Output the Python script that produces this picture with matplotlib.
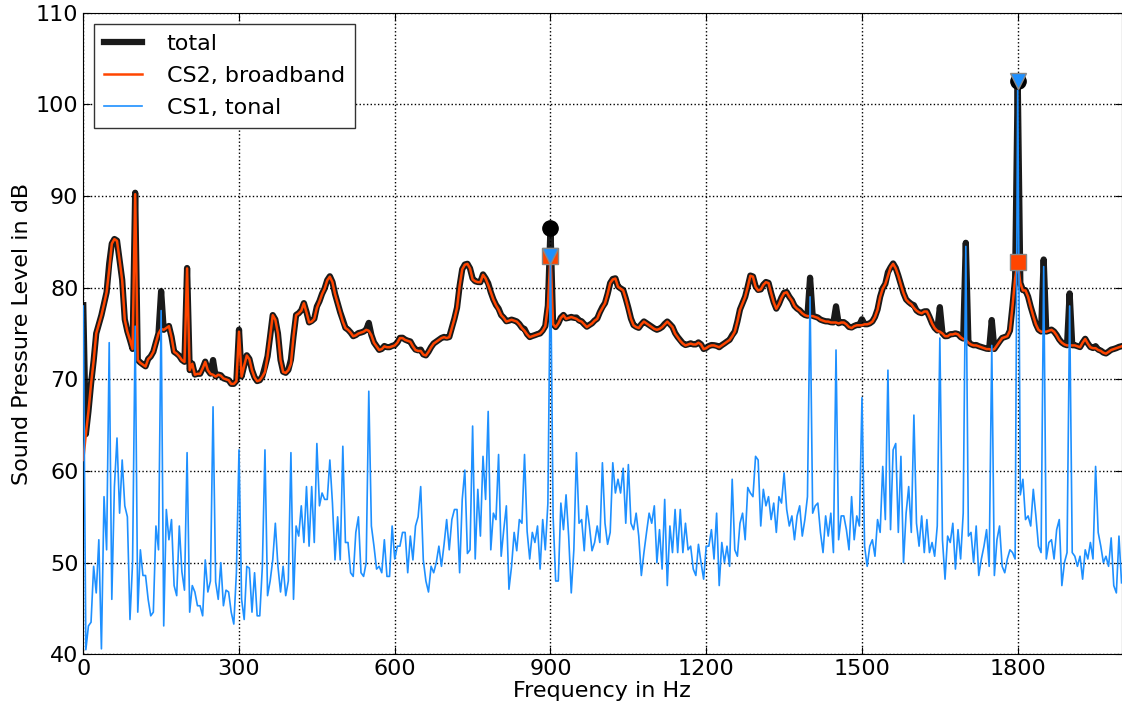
import numpy as np
import matplotlib
matplotlib.use("Agg")
import matplotlib.pyplot as plt

# frequency grid in Hz (5 Hz steps, 0 ... 2000)
freq = np.arange(0, 2001, 5)

# CS2, broadband level in dB, one row = 50 Hz
broadband = [
    61.2, 64.0, 66.5, 69.5, 72.0, 75.0, 76.0, 77.0, 78.2, 79.5,
    82.0, 84.8, 85.3, 85.1, 83.0, 80.8, 76.5, 75.2, 74.3, 73.3,
    90.2, 72.1, 71.8, 71.6, 71.4, 72.2, 72.5, 73.0, 74.0, 75.0,
    75.5, 75.4, 75.6, 75.8, 74.6, 73.0, 72.8, 72.5, 72.1, 71.9,
    82.1, 71.0, 71.7, 70.5, 70.6, 70.6, 71.2, 71.9, 71.0, 70.6,
    70.5, 70.3, 70.5, 70.4, 70.1, 70.0, 69.9, 69.5, 69.5, 69.8,
    75.2, 70.3, 71.5, 72.6, 72.2, 71.0, 70.2, 69.8, 69.9, 70.3,
    70.8, 72.5, 74.7, 77.0, 76.5, 75.0, 72.1, 70.8, 70.7, 71.0,
    71.7, 74.7, 77.0, 77.2, 77.5, 78.3, 77.3, 76.2, 76.3, 76.6,
    77.8, 78.5, 79.3, 79.9, 80.8, 81.2, 80.6, 79.3, 78.3, 77.3,
    76.3, 75.6, 75.4, 75.1, 74.7, 74.8, 75.0, 75.1, 75.2, 75.4,
    75.3, 74.8, 74.0, 73.6, 73.2, 73.3, 73.6, 73.5, 73.5, 73.6,
    73.7, 74.0, 74.5, 74.5, 74.3, 74.2, 74.1, 73.6, 73.2, 73.1,
    73.1, 72.7, 72.6, 73.0, 73.5, 73.9, 74.1, 74.3, 74.5, 74.6,
    74.5, 74.6, 75.6, 76.6, 77.8, 80.2, 82.0, 82.5, 82.6, 82.1,
    80.9, 80.7, 80.6, 80.6, 81.4, 81.0, 80.3, 79.5, 78.7, 78.1,
    77.6, 77.0, 76.7, 76.3, 76.4, 76.5, 76.4, 76.3, 76.0, 75.6,
    75.3, 74.9, 74.6, 74.7, 74.8, 74.9, 75.0, 75.3, 75.8, 78.0,
    83.5, 76.0, 75.7, 76.1, 76.7, 77.0, 76.6, 76.7, 76.8, 76.7,
    76.6, 76.4, 76.3, 76.0, 75.7, 75.9, 76.1, 76.4, 76.6, 77.3,
    77.8, 78.3, 79.3, 80.5, 80.9, 81.0, 80.1, 79.9, 79.7, 78.8,
    77.7, 76.6, 75.9, 75.7, 75.6, 76.0, 76.3, 76.1, 75.9, 75.7,
    75.5, 75.4, 75.5, 75.7, 76.0, 76.3, 76.0, 75.7, 75.0, 74.6,
    74.2, 73.9, 73.7, 73.8, 73.9, 73.8, 73.8, 74.0, 73.8, 73.3,
    73.4, 73.6, 73.7, 73.7, 73.6, 73.5, 73.7, 73.9, 74.1, 74.3,
    74.7, 75.2, 76.3, 77.6, 78.3, 79.0, 80.1, 81.3, 81.2, 80.1,
    79.7, 79.8, 80.3, 80.6, 80.5, 79.4, 78.4, 77.7, 78.2, 78.9,
    79.4, 79.5, 79.0, 78.6, 78.0, 77.7, 77.5, 77.2, 77.0, 76.9,
    76.9, 76.9, 76.8, 76.7, 76.5, 76.4, 76.3, 76.3, 76.2, 76.2,
    76.2, 76.1, 76.2, 76.2, 76.0, 75.7, 75.6, 75.8, 75.9, 75.9,
    75.9, 76.0, 76.0, 76.1, 76.3, 76.8, 77.6, 79.0, 79.9, 80.4,
    81.3, 82.2, 82.6, 82.1, 81.3, 80.3, 79.4, 78.7, 78.4, 78.2,
    77.8, 77.5, 77.3, 77.2, 77.4, 77.4, 76.8, 76.1, 75.6, 75.3,
    75.2, 75.0, 74.7, 74.7, 74.9, 74.9, 75.0, 74.9, 74.6, 74.4,
    74.3, 74.0, 73.8, 73.7, 73.7, 73.6, 73.5, 73.4, 73.3, 73.3,
    73.2, 73.3, 73.7, 74.1, 74.5, 74.6, 74.7, 75.3, 78.0, 81.0,
    82.8, 80.5, 79.7, 79.7, 79.0, 77.9, 76.9, 76.0, 75.4, 75.2,
    75.2, 75.2, 75.3, 75.4, 75.2, 74.8, 74.3, 74.0, 73.8, 73.7,
    73.7, 73.7, 73.7, 73.6, 73.5, 74.0, 74.4, 73.9, 73.5, 73.4,
    73.4, 73.2, 73.1, 72.9, 72.8, 73.0, 73.2, 73.3, 73.4, 73.5,
    73.6,
]

# CS1, tonal level in dB, one row = 50 Hz
tonal = [
    78.0, 40.5, 43.1, 43.5, 49.6, 46.7, 52.5, 40.6, 57.2, 51.4,
    74.0, 46.0, 58.3, 63.6, 55.4, 61.2, 56.2, 55.0, 43.8, 50.0,
    75.8, 44.6, 51.4, 48.6, 48.6, 46.0, 44.2, 44.6, 54.0, 51.4,
    77.5, 43.1, 55.8, 52.5, 54.7, 47.5, 46.4, 54.0, 49.0, 47.0,
    62.0, 44.6, 47.5, 46.8, 45.3, 45.3, 44.2, 50.3, 46.8, 48.0,
    67.0, 47.9, 46.0, 50.0, 45.3, 47.0, 46.8, 44.6, 43.3, 48.9,
    62.3, 46.0, 43.8, 49.6, 49.4, 44.6, 48.9, 44.2, 44.2, 49.6,
    62.3, 46.4, 48.0, 50.3, 54.3, 49.6, 46.8, 49.6, 46.4, 48.0,
    62.0, 46.0, 54.0, 52.9, 56.2, 52.2, 58.3, 51.8, 58.3, 52.2,
    63.0, 56.2, 57.6, 56.9, 56.9, 61.2, 56.5, 50.3, 55.0, 50.3,
    62.7, 52.2, 52.2, 48.9, 48.5, 53.3, 55.0, 48.9, 48.5, 50.0,
    68.7, 54.0, 51.8, 49.3, 49.6, 48.9, 52.5, 48.5, 48.5, 54.0,
    50.4, 51.8, 51.8, 53.3, 53.3, 48.9, 52.9, 50.3, 54.0, 55.0,
    58.3, 50.3, 48.0, 46.8, 49.6, 48.9, 50.0, 51.8, 49.6, 52.0,
    54.7, 51.4, 54.7, 55.8, 55.8, 48.9, 56.9, 60.1, 51.0, 51.4,
    64.9, 50.4, 58.0, 52.9, 61.6, 56.9, 66.5, 51.4, 55.4, 54.7,
    61.8, 50.7, 53.6, 56.2, 47.1, 49.6, 53.3, 51.3, 54.7, 54.3,
    61.8, 53.4, 50.4, 53.3, 52.2, 54.0, 49.3, 54.7, 51.4, 56.5,
    83.5, 55.1, 48.0, 48.0, 56.5, 53.6, 57.4, 52.9, 46.7, 51.4,
    62.0, 54.3, 54.7, 51.3, 56.2, 54.0, 51.3, 52.2, 54.0, 52.2,
    60.9, 54.3, 52.0, 53.3, 60.9, 57.6, 59.1, 57.6, 60.3, 54.3,
    60.7, 54.3, 53.6, 55.4, 52.9, 48.6, 51.1, 53.3, 55.4, 54.3,
    56.2, 50.0, 53.6, 49.3, 56.9, 47.5, 54.0, 51.1, 55.8, 51.1,
    55.8, 51.1, 54.3, 51.4, 51.8, 49.3, 48.6, 52.0, 50.0, 48.2,
    51.8, 51.8, 53.6, 50.4, 55.4, 47.5, 52.2, 50.0, 51.8, 49.6,
    59.1, 51.4, 50.7, 54.3, 55.4, 52.5, 58.2, 57.6, 57.2, 61.6,
    61.2, 54.0, 58.0, 56.2, 57.2, 54.7, 56.5, 53.3, 57.2, 56.5,
    59.8, 55.8, 54.0, 55.1, 52.5, 55.1, 56.2, 52.9, 54.7, 57.2,
    79.0, 55.4, 56.2, 56.5, 53.3, 51.1, 55.1, 52.9, 55.4, 51.1,
    73.2, 52.5, 55.1, 55.1, 53.6, 51.4, 57.2, 52.5, 55.1, 54.0,
    68.0, 51.8, 49.6, 51.8, 52.5, 50.7, 54.7, 53.3, 60.5, 54.7,
    71.0, 53.6, 62.3, 63.0, 53.3, 61.6, 50.0, 55.4, 58.3, 53.3,
    66.1, 54.3, 51.8, 55.1, 51.1, 54.7, 51.1, 52.2, 50.7, 54.0,
    74.5, 52.5, 48.2, 52.9, 52.2, 54.3, 49.3, 53.6, 50.4, 55.4,
    84.5, 52.9, 53.3, 50.0, 54.0, 48.6, 50.4, 51.8, 53.6, 49.6,
    73.7, 48.6, 52.5, 54.0, 49.6, 48.9, 50.4, 51.4, 51.1, 50.4,
    102.5, 57.4, 59.1, 54.7, 55.1, 54.0, 58.0, 55.1, 51.8, 51.1,
    82.3, 50.4, 52.2, 52.5, 50.4, 53.6, 54.7, 47.5, 50.0, 51.1,
    78.0, 51.1, 50.7, 49.6, 50.7, 48.2, 51.4, 50.4, 52.2, 50.4,
    60.5, 53.3, 51.8, 50.0, 50.7, 49.6, 52.7, 47.5, 46.7, 52.9,
    47.8,
]

# frequencies where the levels are marked
marked = [900, 1800]

broadband = np.array(broadband)
tonal = np.array(tonal)
# total level = energetic sum of both sources
total = 10 * np.log10(10 ** (broadband / 10) + 10 ** (tonal / 10))

c_total = '#1a1a1a'
c_bb = '#ff4500'
c_ton = '#1e90ff'

plt.rcParams['font.family'] = 'DejaVu Sans'
plt.rcParams['font.size'] = 16

fig = plt.figure(figsize=(11.22, 7.13), dpi=100)
ax = fig.add_axes([0.0742, 0.0823, 0.9254, 0.8999])

ax.plot(freq, total, color=c_total, lw=4.5, label='total', zorder=2)
ax.plot(freq, broadband, color=c_bb, lw=1.8, label='CS2, broadband', zorder=3)
ax.plot(freq, tonal, color=c_ton, lw=1.2, label='CS1, tonal', zorder=4)

idx = [int(np.where(freq == f)[0][0]) for f in marked]
ax.plot(freq[idx], total[idx], 'o', color='black', ms=11, zorder=5)
ax.plot(freq[idx], broadband[idx], 's', color=c_bb, mec='#888888', mew=1, ms=11, zorder=6)
ax.plot(freq[idx], tonal[idx], 'v', color=c_ton, mec='#888888', mew=1, ms=11, zorder=7)

ax.set_xlim(0, 2000)
ax.set_ylim(40, 110)
ax.set_xticks([0, 300, 600, 900, 1200, 1500, 1800])
ax.set_yticks(range(40, 111, 10))
ax.set_axisbelow(False)
ax.grid(True, linestyle=':', color='black', lw=1, zorder=8)
ax.tick_params(direction='in', top=True, right=True, length=5)

ax.set_xlabel('Frequency in Hz', labelpad=1)
ax.set_ylabel('Sound Pressure Level in dB', labelpad=3)

leg = ax.legend(loc='upper left', fancybox=False, framealpha=1,
                edgecolor='#333333', handlelength=1.7, handletextpad=1.1,
                labelspacing=0.55, borderpad=0.45, borderaxespad=0.5,
                fontsize=16)
leg.get_frame().set_linewidth(1)

fig.savefig('out.png', dpi=100)
